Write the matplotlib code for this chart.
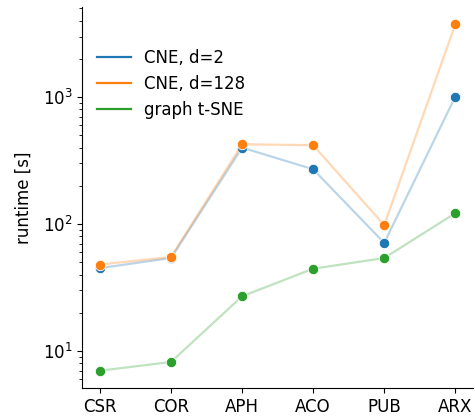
import matplotlib
matplotlib.use("Agg")
import matplotlib.pyplot as plt
from matplotlib.lines import Line2D

datasets = ["CSR", "COR", "APH", "ACO", "PUB", "ARX"]
cne_d2 = [45, 54, 400, 270, 71, 1010]
cne_d128 = [48, 55, 425, 418, 98, 3750]
graph_tsne = [7.0, 8.2, 27, 44.5, 54, 122]

series = [("CNE, d=2", cne_d2, "C0"),
          ("CNE, d=128", cne_d128, "C1"),
          ("graph t-SNE", graph_tsne, "C2")]

plt.rcParams["font.size"] = 12

fig = plt.figure(figsize=(4.75, 4.17), dpi=100)
ax = fig.add_axes([0.173, 0.0695, 0.823, 0.914])

x = list(range(len(datasets)))
handles = []
for label, vals, c in series:
    ax.plot(x, vals, color=c, alpha=0.3, lw=1.6)
    ax.plot(x, vals, ls="none", marker="o", ms=7.5, color=c,
            mec="white", mew=0.6)
    handles.append(Line2D([], [], color=c, lw=1.6, label=label))

ax.set_yscale("log")
ax.set_xticks(x)
ax.set_xticklabels(datasets)
ax.set_ylabel("runtime [s]", labelpad=7)
ax.spines["top"].set_visible(False)
ax.spines["right"].set_visible(False)
ax.legend(handles=handles, frameon=False, loc="upper left",
          bbox_to_anchor=(0.0, 0.93), handlelength=2.0)

fig.savefig("out.png", dpi=100)
